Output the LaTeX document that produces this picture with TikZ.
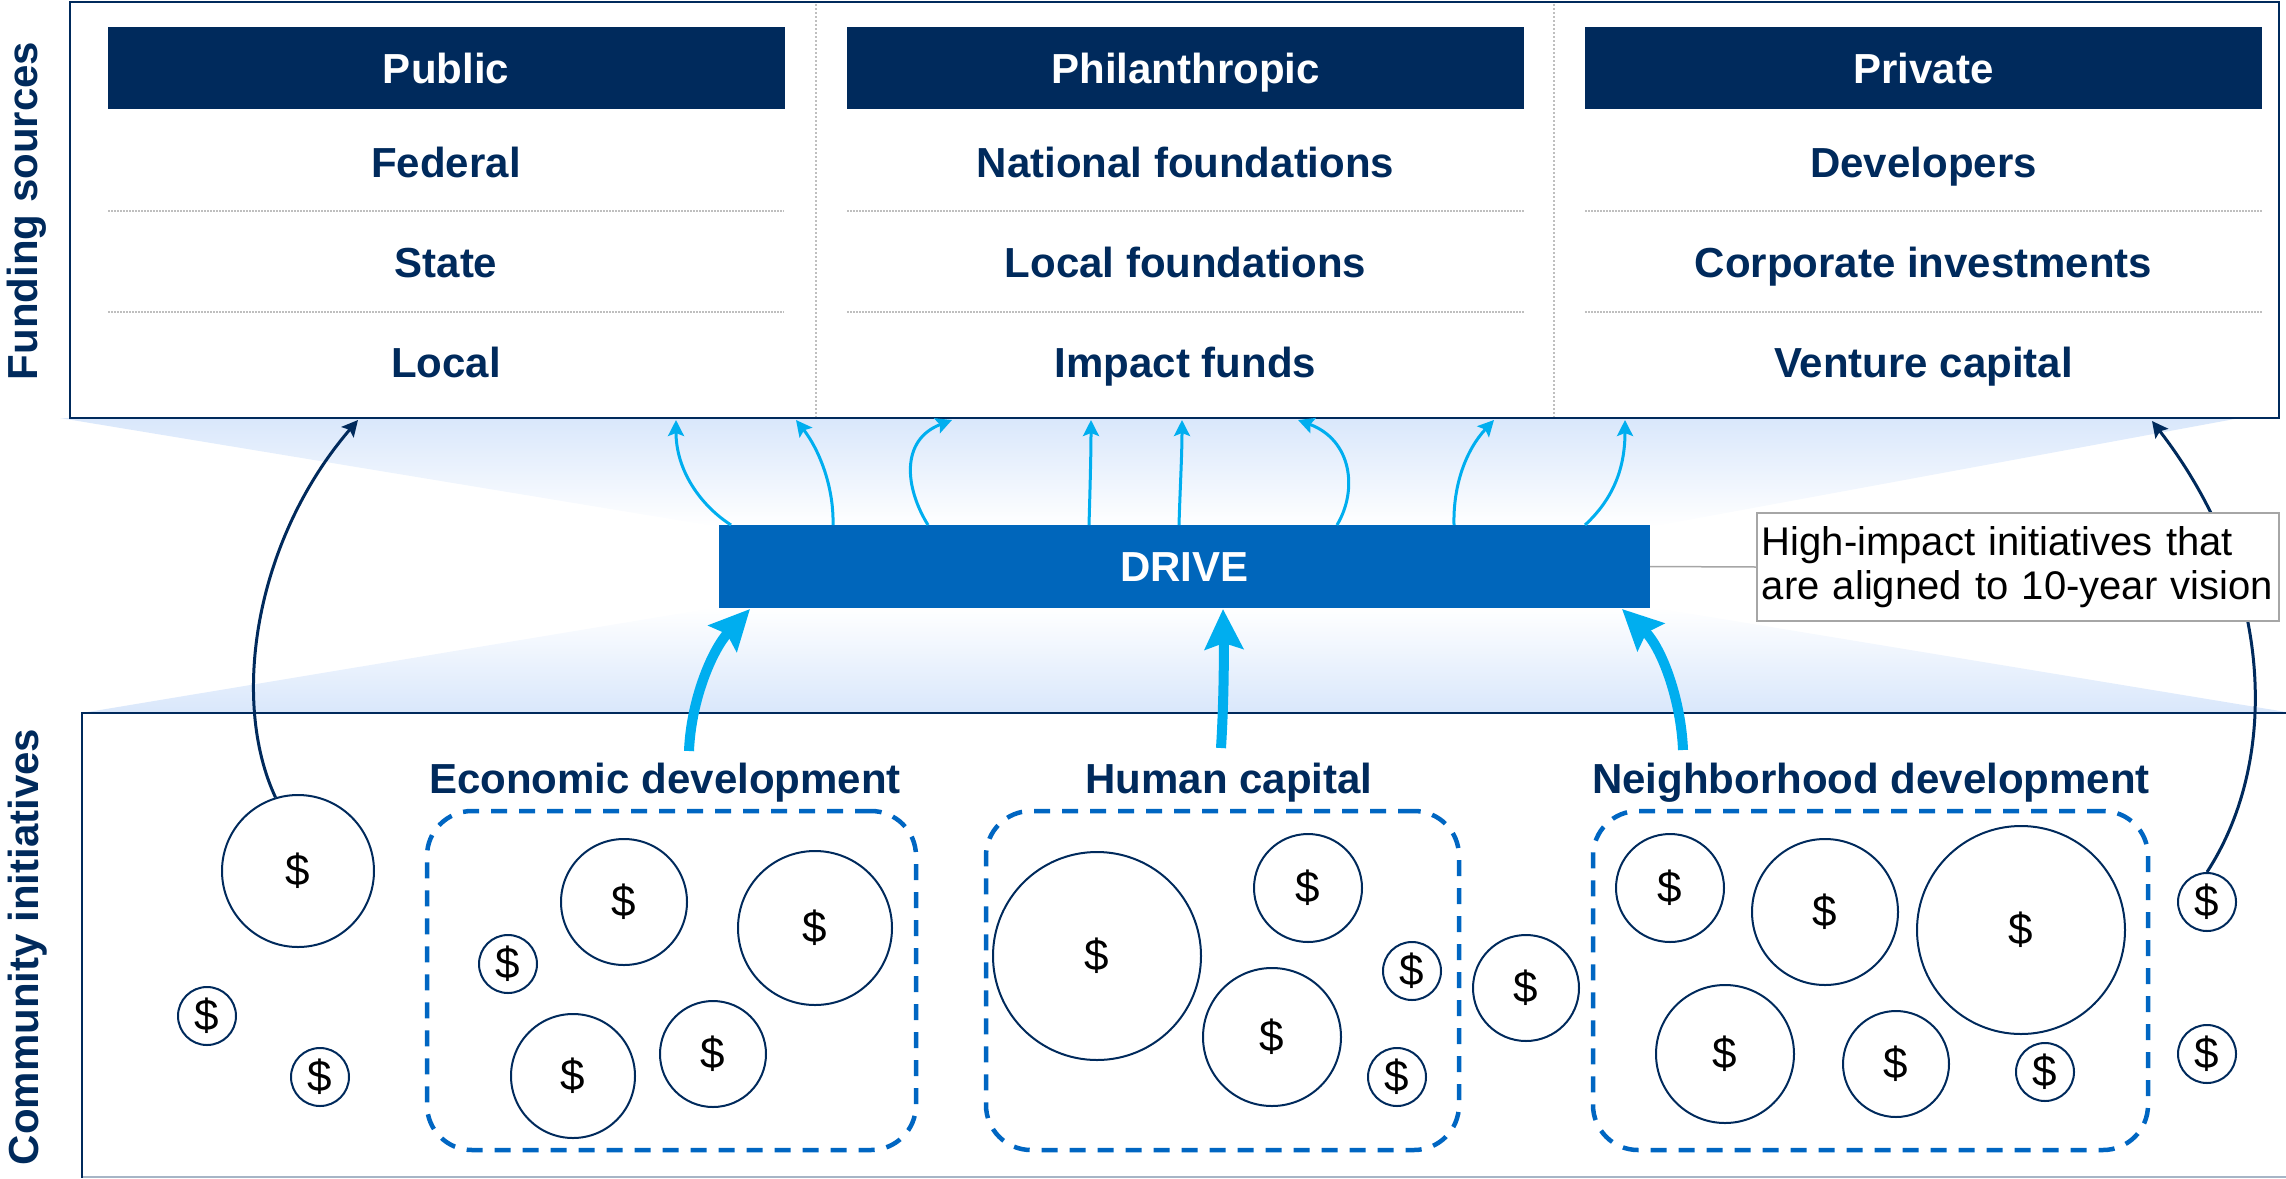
\documentclass[tikz,border=0pt]{standalone}
\usepackage{fontspec}
\setmainfont{Liberation Sans}
\usetikzlibrary{arrows.meta}
\definecolor{navy}{HTML}{002A5C}
\definecolor{driveblue}{HTML}{0066BB}
\definecolor{dashblue}{HTML}{0066C2}
\definecolor{flowcyan}{HTML}{00AEEF}
\definecolor{funnel}{HTML}{D9E7FB}
\definecolor{callgray}{HTML}{A6A6A6}
\definecolor{divgray}{HTML}{BFBFBF}
\newcommand\bigbold{\fontsize{42}{48}\selectfont\bfseries}
\newcommand\callfont{\fontsize{40}{44}\selectfont}
\newcommand\coinfont{\fontsize{44}{48}\selectfont}
\begin{document}
\begin{tikzpicture}[x=1pt,y=-1pt,
  hdr/.style={fill=navy,text=white,font=\bigbold,minimum width=677pt,minimum height=82pt,text height=30pt,text depth=0pt,inner sep=0pt},
  srcitem/.style={text=navy,font=\bigbold,anchor=base,inner sep=0pt},
  catlabel/.style={text=navy,font=\bigbold,anchor=base,inner sep=0pt},
  sidelabel/.style={text=navy,font=\bigbold,rotate=90,anchor=base,inner sep=0pt},
  rowsep/.style={draw=divgray,line width=1.2pt,dash pattern=on 1.5pt off 1.5pt},
  divider/.style={draw=divgray,line width=1.2pt,dash pattern=on 2pt off 2pt},
  coin/.style={circle,draw=navy,line width=2pt,fill=white,inner sep=0pt,font=\coinfont,text=black},
  dashbox/.style={draw=dashblue,line width=4.5pt,dash pattern=on 16pt off 12pt,rounded corners=45pt,inner sep=0pt},
  flowthin/.style={draw=flowcyan,line width=3pt,-{Stealth[length=16pt,width=16pt,inset=3pt]}},
  flowthick/.style={draw=flowcyan,line width=10pt,-{Stealth[length=40pt,width=38pt,inset=6pt]}},
  navyarrow/.style={draw=navy,line width=3pt,-{Stealth[length=16pt,width=16pt,inset=3pt]}}
]
\useasboundingbox (0,0) rectangle (2286,1178);
\clip (0,0) rectangle (2286,1178);

% funnels
\shade[top color=funnel,bottom color=white] (60,418) -- (2240,418) -- (1650,527) -- (719,527) -- cycle;
\shade[top color=white,bottom color=funnel] (719,607) -- (1650,607) -- (2292,713) -- (82,713) -- cycle;

% funding sources box
\node[draw=navy,line width=2.5pt,fill=white,minimum width=2209pt,minimum height=416pt,inner sep=0pt] (srcbox) at (1174.5,210) {};
\draw[divider] (816,4) -- (816,417);
\draw[divider] (1554,4) -- (1554,417);

\node[hdr] (public) at (446,68) {Public};
\node[hdr] (phil) at (1185.5,68) {Philanthropic};
\node[hdr] (private) at (1923.5,68) {Private};

\node[srcitem] (federal) at (446,177) {Federal};
\node[srcitem] (state) at (446,277) {State};
\node[srcitem] (local) at (446,377) {Local};
\node[srcitem] (natf) at (1185.5,177) {National foundations};
\node[srcitem] (locf) at (1185.5,277) {Local foundations};
\node[srcitem] (impf) at (1185.5,377) {Impact funds};
\node[srcitem] (devs) at (1923.5,177) {Developers};
\node[srcitem] (corp) at (1923.5,277) {Corporate investments};
\node[srcitem] (vc) at (1923.5,377) {Venture capital};

\foreach \xa/\xb in {108/784,847/1524,1585/2262}{
  \draw[rowsep] (\xa,211) -- (\xb,211);
  \draw[rowsep] (\xa,312) -- (\xb,312);
}

% community initiatives box
\draw[navy!35,line width=2pt] (82,1177) -- (2300,1177);
\draw[navy,line width=2.5pt] (2300,713) -- (82,713) -- (82,1178);

% side labels
\node[sidelabel] (fundlbl) at (37,211) {Funding sources};
\node[sidelabel] (commlbl) at (38,947) {Community initiatives};

% DRIVE
\node[fill=driveblue,text=white,font=\bigbold,minimum width=931pt,minimum height=83pt,text height=30pt,text depth=0pt,inner sep=0pt] (drive) at (1184.5,566.5) {DRIVE};

% cyan arrows from DRIVE to funding sources
\coordinate (da) at (731,525); \coordinate (ta) at (676,420);
\coordinate (dc) at (833,525); \coordinate (tc) at (796,420);
\coordinate (dd) at (928,525); \coordinate (td) at (952,420);
\coordinate (de) at (1089,525); \coordinate (te) at (1091,420);
\coordinate (df) at (1179,525); \coordinate (tf) at (1182,420);
\coordinate (dg) at (1337,525); \coordinate (tg) at (1298,420);
\coordinate (dh) at (1454,525); \coordinate (th) at (1494,420);
\coordinate (di) at (1585,525); \coordinate (ti) at (1625,420);
\draw[flowthin] (da) .. controls (700,505) and (676,470) .. (ta);
\draw[flowthin] (dc) .. controls (834,485) and (818,448) .. (tc);
\draw[flowthin] (dd) .. controls (905,488) and (900,440) .. (td);
\draw[flowthin] (de) .. controls (1090,490) and (1091,455) .. (te);
\draw[flowthin] (df) .. controls (1180,490) and (1182,455) .. (tf);
\draw[flowthin] (dg) .. controls (1358,490) and (1352,440) .. (tg);
\draw[flowthin] (dh) .. controls (1453,485) and (1466,450) .. (th);
\draw[flowthin] (di) .. controls (1612,500) and (1625,470) .. (ti);

% category labels
\node[catlabel] (econlbl) at (665,793) {Economic development};
\node[catlabel] (humanlbl) at (1229,793) {Human capital};
\node[catlabel] (neighlbl) at (1871,793) {Neighborhood development};

% thick arrows into DRIVE
\coordinate (econstart) at (689,751);
\coordinate (humanstart) at (1221,748);
\coordinate (neighstart) at (1683,750);
\coordinate (be) at (750,609);
\coordinate (bh) at (1223,609);
\coordinate (bn) at (1622,609);
\draw[flowthick] (econstart) .. controls (691,700) and (712,650) .. (be);
\draw[flowthick] (humanstart) .. controls (1224,700) and (1224,650) .. (bh);
\draw[flowthick] (neighstart) .. controls (1681,700) and (1662,648) .. (bn);

% dashed groups
\node[dashbox,minimum width=489pt,minimum height=339pt] (econbox) at (671.5,980.5) {};
\node[dashbox,minimum width=473pt,minimum height=339pt] (humanbox) at (1222.5,980.5) {};
\node[dashbox,minimum width=555pt,minimum height=339pt] (neighbox) at (1870.5,980.5) {};

% coins
\foreach \n/\x/\y/\r in {c1/298/871/76, c2/207/1016/29, c3/320/1077/29,
  c4/508/964/29, c5/624/902/63, c6/815/928/77, c7/573/1076/62, c8/713/1054/53,
  c9/1097/956/104, c10/1308/888/54, c11/1272/1037/69, c12/1412/971/29, c13/1397/1077/29,
  c14/1526/988/53,
  c15/1670/888/54, c16/1825/912/73, c17/2021/930/104, c18/1725/1054/69, c19/1896/1064/53, c20/2045/1072/29,
  c21/2207/902/29, c22/2207/1054/29}{
  \node[coin,minimum size={2*\r*1pt}] (\n) at (\x,\y) {\$};
}

% navy arrows straight to funding sources
\coordinate (tl) at (358,420);
\coordinate (tr) at (2152,421);
\draw[navyarrow] (c1.107) .. controls (230,700) and (255,540) .. (tl);
\draw[navyarrow] (c21.north) .. controls (2280,760) and (2275,580) .. (tr);

% callout
\node[draw=callgray,line width=1.5pt,fill=white,text width=512pt,inner xsep=5pt,inner ysep=0pt,minimum height=108pt,align=left,font=\callfont,anchor=west] (callout) at (1756,567) {High-impact initiatives that\\are aligned to 10-year vision};
\draw[callgray,line width=1.5pt] (drive.east) -- (callout.west);
\end{tikzpicture}
\end{document}
